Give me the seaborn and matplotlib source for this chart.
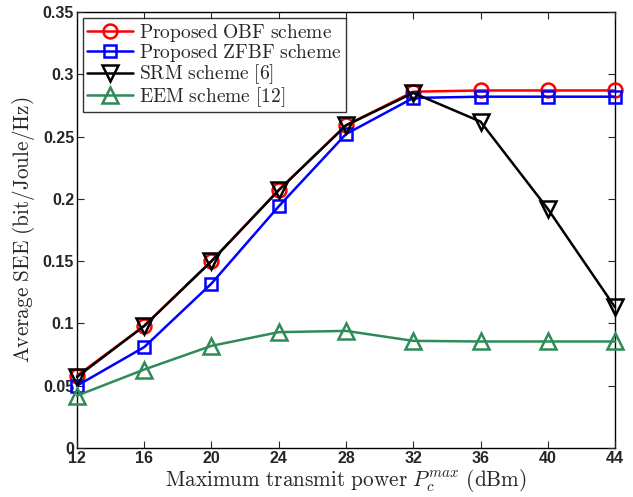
import matplotlib
matplotlib.use("Agg")
import matplotlib.pyplot as plt
import seaborn as sns
import pandas as pd

power_dbm = [12, 16, 20, 24, 28, 32, 36, 40, 44]
obf = [0.058, 0.098, 0.150, 0.207, 0.259, 0.286, 0.287, 0.287, 0.287]
zfbf = [0.050, 0.081, 0.132, 0.194, 0.252, 0.281, 0.282, 0.282, 0.282]
srm = [0.057, 0.098, 0.150, 0.207, 0.259, 0.285, 0.262, 0.192, 0.113]
eem = [0.042, 0.063, 0.082, 0.093, 0.094, 0.086, 0.0855, 0.0855, 0.0855]

labels = ["Proposed OBF scheme", "Proposed ZFBF scheme", "SRM scheme [6]", "EEM scheme [12]"]
series = [obf, zfbf, srm, eem]
colors = ["#FF0000", "#0000FF", "#000000", "#2E8B57"]
markers = ["o", "s", "v", "^"]
msizes = [10, 8, 11, 11]

sns.set_style("ticks")
plt.rcParams["mathtext.fontset"] = "cm"
plt.rcParams["font.family"] = ["Liberation Sans", "DejaVu Sans"]

fig = plt.figure(figsize=(6.33, 4.97), dpi=100)
ax = fig.add_axes([0.1216, 0.0986, 0.85, 0.8773])

for lab, vals, c, m, ms in zip(labels, series, colors, markers, msizes):
    df = pd.DataFrame({"x": power_dbm, "y": vals})
    sns.lineplot(data=df, x="x", y="y", ax=ax, color=c, marker=m, markersize=ms,
                 markerfacecolor="none", markeredgecolor=c, markeredgewidth=1.8,
                 linewidth=1.8, clip_on=False,
                 label=r"$\mathrm{" + lab.replace(" ", r"\ ") + "}$")

ax.set_xlim(12, 44)
ax.set_ylim(0, 0.35)
ax.set_xticks(power_dbm)
ax.set_xticklabels([str(v) for v in power_dbm])
yt = [0, 0.05, 0.1, 0.15, 0.2, 0.25, 0.3, 0.35]
ax.set_yticks(yt)
ax.set_yticklabels(["0", "0.05", "0.1", "0.15", "0.2", "0.25", "0.3", "0.35"])
for lbl in ax.get_xticklabels() + ax.get_yticklabels():
    lbl.set_fontweight("bold")
    lbl.set_fontsize(11.5)
ax.tick_params(direction="in", top=True, right=True, length=5, width=0.8, pad=2)
for sp in ax.spines.values():
    sp.set_visible(True)
    sp.set_linewidth(1.0)
    sp.set_color("black")
    sp.set_zorder(0.5)

ax.set_xlabel(r"$\mathrm{Maximum\ transmit\ power}\ P_c^{max}\ \mathrm{(dBm)}$", fontsize=15.3, labelpad=1)
ax.set_ylabel(r"$\mathrm{Average\ SEE\ (bit/Joule/Hz)}$", fontsize=15.3, labelpad=4)

leg = ax.legend(loc="upper left", fontsize=14, frameon=True, fancybox=False,
                borderaxespad=0.3, handlelength=2.4, handletextpad=0.3,
                labelspacing=-0.08, borderpad=0.2)
leg.get_frame().set_edgecolor("black")
leg.get_frame().set_linewidth(1.0)

fig.savefig("out.png", dpi=100)
